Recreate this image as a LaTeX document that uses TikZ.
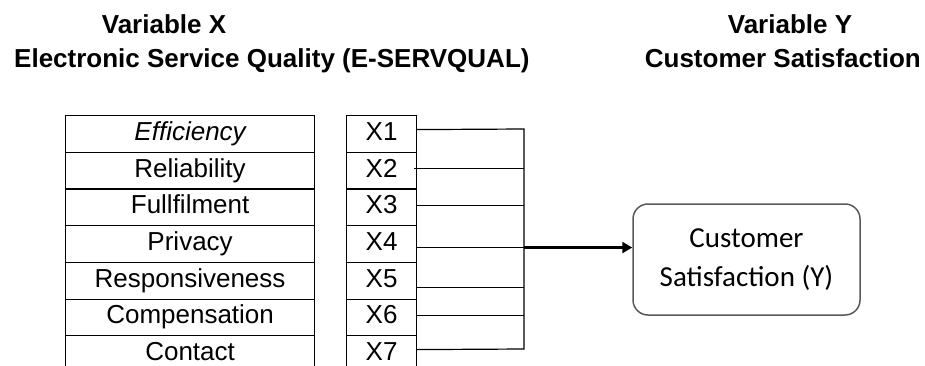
\documentclass[tikz,border=0pt]{standalone}
\usepackage{fontspec}
\setmainfont{Liberation Sans}
\newfontfamily\boxfont{Carlito}
\usetikzlibrary{arrows.meta}

\begin{document}
\begin{tikzpicture}[x=1pt,y=-1pt,
  cell/.style={draw=black, line width=1.2pt, minimum width=249pt,
    minimum height=36.7pt, inner sep=0pt, text height=13pt, text depth=0pt,
    font=\fontsize{26}{26}\selectfont, anchor=north west},
  code/.style={cell, minimum width=70pt},
  head/.style={font=\fontsize{26}{30}\selectfont\bfseries, inner sep=0pt, anchor=base},
  link/.style={line width=1.2pt},
  arrowline/.style={line width=2.4pt, -{Triangle[length=10pt,width=11pt]}},
  result/.style={draw=black!65, line width=1.5pt, rounded corners=15pt,
    minimum width=227pt, minimum height=111pt, align=center,
    font=\boxfont\fontsize{29}{39}\selectfont},
]
\useasboundingbox (0,0) rectangle (925,366);
\clip (0,0) rectangle (925,366);

% headings
\node[head] (hx) at (164,34) {Variable X};
\node[head, anchor=base west] (hxs) at (14,68) {Electronic Service Quality (E-SERVQUAL)};
\node[head] (hy) at (790,34) {Variable Y};
\node[head, anchor=base east] (hys) at (921,68) {Customer Satisfaction};

% dimensions of E-SERVQUAL
\node[cell] (d1) at (65,115.0) {\itshape Efficiency};
\node[cell] (d2) at (65,151.7) {Reliability};
\node[cell] (d3) at (65,188.4) {Fullfilment};
\node[cell] (d4) at (65,225.1) {Privacy};
\node[cell] (d5) at (65,261.8) {Responsiveness};
\node[cell] (d6) at (65,298.5) {Compensation};
\node[cell] (d7) at (65,335.2) {Contact};

% indicator codes
\node[code] (x1) at (346,115.0) {X1};
\node[code] (x2) at (346,151.7) {X2};
\node[code] (x3) at (346,188.4) {X3};
\node[code] (x4) at (346,225.1) {X4};
\node[code] (x5) at (346,261.8) {X5};
\node[code] (x6) at (346,298.5) {X6};
\node[code] (x7) at (346,335.2) {X7};

% dependent variable
\node[result] (cs) at (746.5,259.5) {Customer\\Satisfaction (Y)};

% collecting bus
\coordinate (p1) at ([yshift=4.35pt]x1.east);
\coordinate (p2) at ([xshift=-3pt,yshift=2pt]x2.east);
\coordinate (p3) at ([yshift=1.75pt]x3.east);
\coordinate (p4) at ([yshift=-3.5pt]x4.east);
\coordinate (p5) at ([yshift=-6.85pt]x5.east);
\coordinate (p6) at ([yshift=1.85pt]x6.east);
\coordinate (p7) at ([yshift=4.55pt]x7.east);
\coordinate (bus1) at (524,129);
\coordinate (bus7) at (524,349);

\draw[link] (p1) -- (bus1) -- (bus7) -- (p7);
\draw[link] (p2) -- (p2 -| bus1);
\draw[link] (p3) -- (p3 -| bus1);
\draw[link] (p4) -- (p4 -| bus1);
\draw[link] (p5) -- (p5 -| bus1);
\draw[link] (p6) -- (p6 -| bus1);

\draw[arrowline] (p4 -| bus1) -- (p4 -| cs.west);
\end{tikzpicture}
\end{document}
